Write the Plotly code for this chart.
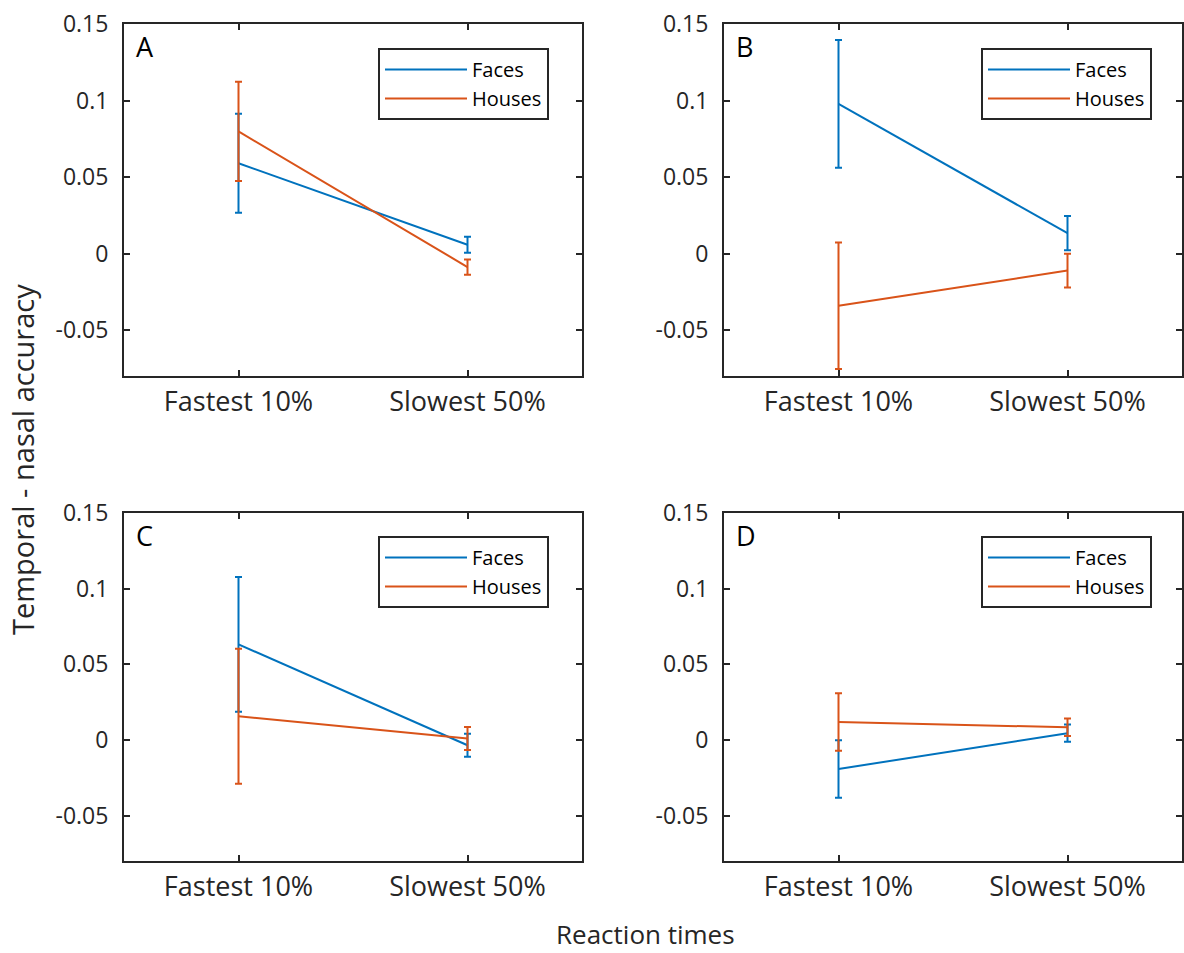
import plotly.graph_objects as go

# ---------------- data ----------------
categories = ["Fastest 10%", "Slowest 50%"]
series_names = ["Faces", "Houses"]
panel_labels = ["A", "B", "C", "D"]

A_faces = [0.0590, 0.0058]
A_faces_err = [0.0324, 0.0052]
A_houses = [0.0798, -0.0088]
A_houses_err = [0.0324, 0.0050]

B_faces = [0.0978, 0.0133]
B_faces_err = [0.0418, 0.0112]
B_houses = [-0.0341, -0.0111]
B_houses_err = [0.0413, 0.0110]

C_faces = [0.0632, -0.0035]
C_faces_err = [0.0445, 0.0076]
C_houses = [0.0156, 0.0010]
C_houses_err = [0.0446, 0.0076]

D_faces = [-0.0192, 0.0045]
D_faces_err = [0.0190, 0.0057]
D_houses = [0.0118, 0.0084]
D_houses_err = [0.0190, 0.0058]

y_ticks = [-0.05, 0, 0.05, 0.1, 0.15]
y_ticktext = ["-0.05", "0", "0.05", "0.1", "0.15"]

panels = [
    (A_faces, A_faces_err, A_houses, A_houses_err),
    (B_faces, B_faces_err, B_houses, B_houses_err),
    (C_faces, C_faces_err, C_houses, C_houses_err),
    (D_faces, D_faces_err, D_houses, D_houses_err),
]

# ---------------- style ----------------
W, H = 1184, 953
FONT = "Open Sans"
AX = "#262626"
colors = ["#0072BD", "#D95319"]

# axis boxes in pixels (left, right, top, bottom)
boxes = [
    (124, 582, 24, 376),
    (724, 1182, 24, 376),
    (124, 582, 513, 861),
    (724, 1182, 513, 861),
]
legend_pos = [(378, 48), (981, 48), (378, 536), (981, 536)]

fig = go.Figure()

for i, (f, fe, h, he) in enumerate(panels):
    n = i + 1
    xa = "x" if n == 1 else f"x{n}"
    ya = "y" if n == 1 else f"y{n}"
    lg = "legend" if n == 1 else f"legend{n}"
    for vals, errs, name, col in [(f, fe, series_names[0], colors[0]),
                                  (h, he, series_names[1], colors[1])]:
        fig.add_trace(go.Scatter(
            x=categories, y=vals, name=name, mode="lines",
            line=dict(color=col, width=2),
            error_y=dict(type="data", array=errs, symmetric=True,
                         color=col, thickness=2, width=3.5),
            xaxis=xa, yaxis=ya, legend=lg, showlegend=True,
        ))

layout = dict(
    width=W, height=H,
    margin=dict(l=0, r=0, t=0, b=0, autoexpand=False),
    paper_bgcolor="white", plot_bgcolor="white",
    font=dict(family=FONT, color=AX),
)

for i, (l, r, t, b) in enumerate(boxes):
    n = i + 1
    xk = "xaxis" if n == 1 else f"xaxis{n}"
    yk = "yaxis" if n == 1 else f"yaxis{n}"
    yanchor = "x" if n == 1 else f"x{n}"
    xanchor = "y" if n == 1 else f"y{n}"
    layout[xk] = dict(
        domain=[l / W, r / W], anchor=xanchor, automargin=False,
        type="category", range=[-0.5, 1.5],
        showline=True, linecolor=AX, linewidth=2, mirror="ticks",
        ticks="inside", ticklen=6, tickwidth=2, tickcolor=AX,
        showgrid=False, zeroline=False,
        tickfont=dict(family=FONT, size=27, color=AX),
        ticklabelstandoff=1,
    )
    layout[yk] = dict(
        domain=[1 - b / H, 1 - t / H], anchor=yanchor, automargin=False,
        range=[-0.08, 0.15],
        tickvals=y_ticks, ticktext=y_ticktext,
        showline=True, linecolor=AX, linewidth=2, mirror="ticks",
        ticks="inside", ticklen=6, tickwidth=2, tickcolor=AX,
        showgrid=False, zeroline=False,
        tickfont=dict(family=FONT, size=23, color=AX),
        ticklabelstandoff=9,
    )
    lx, ly = legend_pos[i]
    lk = "legend" if n == 1 else f"legend{n}"
    layout[lk] = dict(
        x=lx / W, y=1 - ly / H, xanchor="left", yanchor="top",
        bordercolor=AX, borderwidth=2, bgcolor="white",
        font=dict(family=FONT, size=20, color="#000000"),
        itemwidth=82, tracegroupgap=0,
    )

fig.update_layout(**layout)

annotations = []
for i, lab in enumerate(panel_labels):
    n = i + 1
    xr = "x domain" if n == 1 else f"x{n} domain"
    yr = "y domain" if n == 1 else f"y{n} domain"
    annotations.append(dict(
        text=lab, xref=xr, yref=yr, x=0.022, y=0.935,
        xanchor="left", yanchor="middle", showarrow=False,
        font=dict(family=FONT, size=27, color="#000000"),
    ))

annotations.append(dict(
    text="Temporal - nasal accuracy", xref="paper", yref="paper",
    x=22 / W, y=1 - 460 / H, xanchor="center", yanchor="middle",
    textangle=-90, showarrow=False,
    font=dict(family=FONT, size=29, color=AX),
))
annotations.append(dict(
    text="Reaction times", xref="paper", yref="paper",
    x=645 / W, y=0, xanchor="center", yanchor="bottom",
    showarrow=False, borderpad=0,
    font=dict(family=FONT, size=26, color=AX),
))
fig.update_layout(annotations=annotations)

fig.write_html(
    "out.html",
    config={"displayModeBar": False},
    post_script="document.body.style.margin='0';document.body.style.overflow='hidden';",
)
